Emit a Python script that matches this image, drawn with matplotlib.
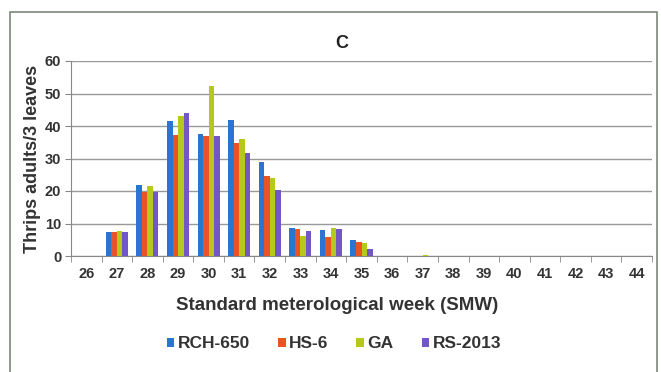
import numpy as np
import matplotlib.pyplot as plt
from matplotlib.patches import Rectangle

weeks = list(range(26, 45))
rch650 = [0, 7.3, 22.0, 41.4, 37.4, 41.8, 29.0, 8.6, 7.9, 5.0, 0, 0, 0, 0, 0, 0, 0, 0, 0]
hs6 = [0, 7.3, 19.7, 37.3, 37.0, 34.9, 24.6, 8.4, 5.7, 4.3, 0, 0, 0, 0, 0, 0, 0, 0, 0]
ga = [0, 7.7, 21.4, 43.0, 52.2, 36.1, 24.1, 6.2, 8.5, 4.0, 0, 0.3, 0, 0, 0, 0, 0, 0, 0]
rs2013 = [0, 7.5, 19.7, 44.0, 36.8, 31.8, 20.4, 7.6, 8.4, 2.3, 0, 0, 0, 0, 0, 0, 0, 0, 0]

series = [("RCH-650", rch650, "#2a74d2"),
          ("HS-6", hs6, "#ea5424"),
          ("GA", ga, "#b5c91a"),
          ("RS-2013", rs2013, "#7357c4")]

plt.rcParams['font.family'] = ['Liberation Sans', 'DejaVu Sans']
txt = "#333333"

fig = plt.figure(figsize=(6.61, 3.72), dpi=100)
ax = fig.add_axes([71/661, 1 - 256/372, 581/661, 195/372])

# outer chart frame (bottom edge runs off the image)
fig.patches.append(Rectangle((10/661, -0.05), 647/661, 1.05 - 12/372, transform=fig.transFigure,
                             fill=False, edgecolor="#7a8a78", linewidth=1.2))

x = np.arange(len(weeks))
w = 0.18
for i, (name, vals, col) in enumerate(series):
    ax.bar(x + (i - 1.5) * w, vals, width=w, color=col, label=name, zorder=3)

ax.set_xlim(-0.5, len(weeks) - 0.5)
ax.set_ylim(0, 60)
ax.set_yticks(range(0, 61, 10))
ax.set_xticks(x)
ax.set_xticklabels([str(wk) for wk in weeks])
ax.set_xticks(np.arange(-0.5, len(weeks), 1), minor=True)
ax.tick_params(axis='x', which='major', length=0, pad=8, labelsize=10.5, labelcolor=txt)
ax.tick_params(axis='x', which='minor', length=4, color="#888888", direction='out')
ax.tick_params(axis='y', length=4, color="#888888", labelsize=10.5, labelcolor=txt, pad=3)
for lab in ax.get_xticklabels() + ax.get_yticklabels():
    lab.set_fontweight('bold')

ax.grid(axis='y', color="#999999", linewidth=1.0, zorder=0)
for s in ['top', 'right']:
    ax.spines[s].set_visible(False)
ax.spines['left'].set_color("#888888")
ax.spines['bottom'].set_color("#888888")

ax.set_ylabel("Thrips adults/3 leaves", fontsize=13, fontweight='bold', color=txt, labelpad=3)
fig.text(342/661, 1 - 44/372, "C", fontsize=13, fontweight='bold', color="#222222",
         ha='center', va='center')
fig.text(337/661, 1 - 306/372, "Standard meterological week (SMW)", fontsize=13.5,
         fontweight='bold', color=txt, ha='center', va='center')

fig.legend(loc='center', bbox_to_anchor=(334/661, 1 - 344/372), ncol=4, frameon=False,
           handlelength=0.45, handleheight=0.45, handletextpad=0.2,
           columnspacing=1.6, labelcolor=txt, prop={'weight': 'bold', 'size': 12.5})

fig.savefig("out.png", dpi=100)
